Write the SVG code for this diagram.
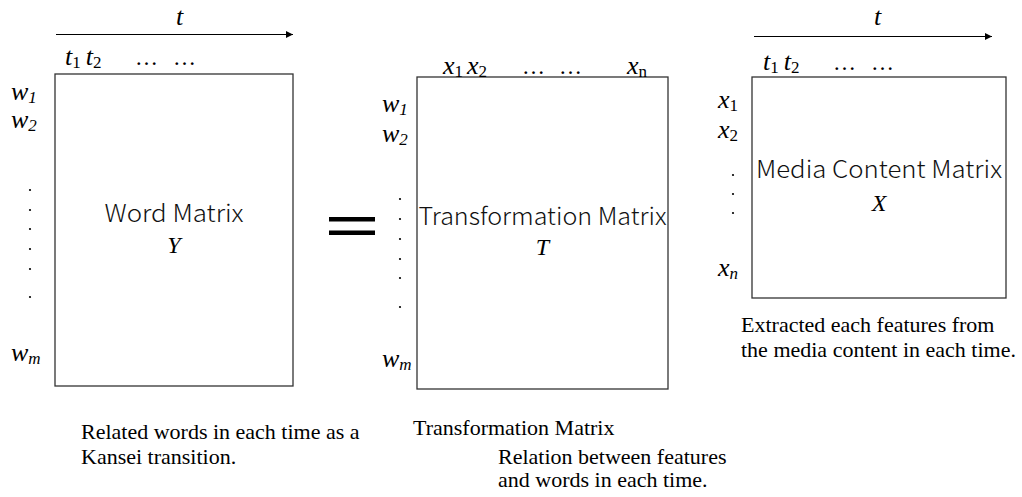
<svg xmlns="http://www.w3.org/2000/svg" width="1022" height="497" viewBox="0 0 1022 497">
<defs>
<marker id="arr" viewBox="0 0 10 10" refX="10" refY="5" markerWidth="7" markerHeight="7" markerUnits="userSpaceOnUse" orient="auto">
<path d="M0,0 L10,5 L0,10 z" fill="#000"/>
</marker>
<style>
.box{fill:#fff;stroke:#333;stroke-width:1.3}
.axis{stroke:#000;stroke-width:1;fill:none}
.var{font-family:"Liberation Serif","Times New Roman",serif;font-style:italic;font-size:26px;fill:#000}
.sub{font-size:17px}
.up{font-style:normal}
.dots{font-family:"Liberation Serif",serif;font-size:23px;fill:#000}
.title{font-family:"Noto Sans CJK JP","Noto Sans",sans-serif;font-weight:300;font-size:24px;fill:#111;text-anchor:middle}
.mvar{font-family:"Liberation Serif",serif;font-style:italic;font-size:24px;fill:#000;text-anchor:middle}
.cap{font-family:"Liberation Serif","Times New Roman",serif;font-size:22px;fill:#000}
.dot{fill:#000}
</style>
</defs>

<g id="connectors">
<line class="axis" x1="56" y1="34.5" x2="293" y2="34.5" marker-end="url(#arr)"/>
<line class="axis" x1="754" y1="36.5" x2="992" y2="36.5" marker-end="url(#arr)"/>
</g>

<g id="word-matrix">
<rect class="box" x="55" y="74" width="238" height="312"/>
<text class="var" x="176" y="25">t</text>
<text class="var" x="65" y="65">t<tspan class="sub up" dy="3">1</tspan><tspan dy="-3" dx="5">t</tspan><tspan class="sub up" dy="3">2</tspan></text>
<text class="dots" x="135" y="65">…</text><text class="dots" x="173" y="65">…</text>
<text class="var" x="11" y="100">w<tspan class="sub" dy="3">1</tspan></text>
<text class="var" x="11" y="128">w<tspan class="sub" dy="3">2</tspan></text>
<g class="dot"><circle cx="30" cy="190" r="1.1"/><circle cx="30" cy="210" r="1.1"/><circle cx="30" cy="229" r="1.1"/><circle cx="30" cy="249" r="1.1"/><circle cx="30" cy="269" r="1.1"/><circle cx="30" cy="297" r="1.1"/></g>
<text class="var" x="11" y="361">w<tspan class="sub" dy="3">m</tspan></text>
<text class="title" x="174" y="222" textLength="139" lengthAdjust="spacingAndGlyphs">Word Matrix</text>
<text class="mvar" x="174" y="253">Y</text>
<text class="cap" x="81" y="439">Related words in each time as a</text>
<text class="cap" x="81" y="464">Kansei transition.</text>
</g>

<g id="equals">
<rect x="329" y="217" width="46" height="4.5" fill="#000"/>
<rect x="329" y="230.5" width="46" height="4.5" fill="#000"/>
</g>

<g id="transformation-matrix">
<rect class="box" x="417" y="77" width="251" height="312"/>
<text class="var" x="443" y="74">x<tspan class="sub up" dy="3">1</tspan><tspan dy="-3" dx="4">x</tspan><tspan class="sub up" dy="3">2</tspan></text>
<text class="dots" x="522" y="74">…</text><text class="dots" x="559" y="74">…</text>
<text class="var" x="627" y="74">x<tspan class="sub up" dy="3">n</tspan></text>
<text class="var" x="382" y="112">w<tspan class="sub" dy="3">1</tspan></text>
<text class="var" x="382" y="142">w<tspan class="sub" dy="3">2</tspan></text>
<g class="dot"><circle cx="400" cy="199" r="1.1"/><circle cx="400" cy="219" r="1.1"/><circle cx="400" cy="239" r="1.1"/><circle cx="400" cy="259" r="1.1"/><circle cx="400" cy="278" r="1.1"/><circle cx="400" cy="307" r="1.1"/></g>
<text class="var" x="382" y="367">w<tspan class="sub" dy="3">m</tspan></text>
<text class="title" x="542.5" y="225" textLength="248" lengthAdjust="spacingAndGlyphs">Transformation Matrix</text>
<text class="mvar" x="542.5" y="255">T</text>
<text class="cap" x="413" y="435">Transformation Matrix</text>
<text class="cap" x="498" y="464">Relation between features</text>
<text class="cap" x="498" y="487">and words in each time.</text>
</g>

<g id="media-content-matrix">
<rect class="box" x="752" y="77" width="254" height="221"/>
<text class="var" x="874" y="25">t</text>
<text class="var" x="763" y="70">t<tspan class="sub up" dy="3">1</tspan><tspan dy="-3" dx="5">t</tspan><tspan class="sub up" dy="3">2</tspan></text>
<text class="dots" x="833" y="70">…</text><text class="dots" x="871" y="70">…</text>
<text class="var" x="718" y="108">x<tspan class="sub up" dy="3">1</tspan></text>
<text class="var" x="718" y="138">x<tspan class="sub up" dy="3">2</tspan></text>
<g class="dot"><circle cx="733" cy="175" r="1.1"/><circle cx="733" cy="194" r="1.1"/><circle cx="733" cy="213" r="1.1"/></g>
<text class="var" x="718" y="276">x<tspan class="sub" dy="3">n</tspan></text>
<text class="title" x="879" y="178" textLength="246" lengthAdjust="spacingAndGlyphs">Media Content Matrix</text>
<text class="mvar" x="879" y="211">X</text>
<text class="cap" x="741" y="332">Extracted each features from</text>
<text class="cap" x="741" y="357">the media content in each time.</text>
</g>
</svg>
